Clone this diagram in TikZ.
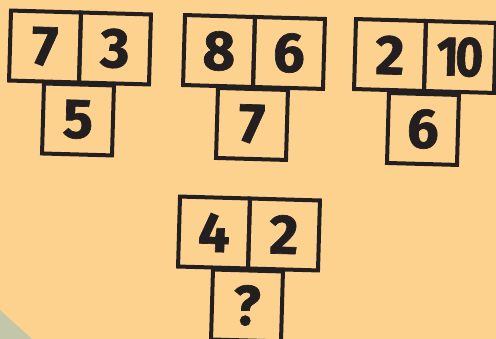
\documentclass[tikz,border=0pt]{standalone}
\usepackage{fontspec}
\setsansfont{Fira Sans}[BoldFeatures={FakeBold=1.2}]
\usepackage{tikz}
\usetikzlibrary{positioning}

\definecolor{paper}{HTML}{FDD28E}
\definecolor{ink}{HTML}{231F20}
\definecolor{corner}{HTML}{C4C6A9}

\tikzset{
    cell/.style={draw=ink, line width=4pt, minimum width=70pt, minimum height=70pt,
        inner sep=0pt, text=ink, font=\sffamily\bfseries\fontsize{56}{56}\selectfont},
    tile/.style={transform shape, rotate=-1.6}
}

\begin{document}
\begin{tikzpicture}[x=1pt, y=-1pt]

% Background
\useasboundingbox (0,0) rectangle (496,339);
\fill[paper] (0,0) rectangle (496,339);
\fill[corner] (0,310) -- (32,339) -- (0,339) -- cycle;

% First puzzle
\begin{scope}[shift={(80,47.5)}, tile]
\node[cell] (aL) at (-35,0) {7};
\node[cell] (aR) at (35,0) {3};
\node[cell] (aB) at (0,72) {5};
\end{scope}

% Second puzzle
\begin{scope}[shift={(254,52)}, tile]
\node[cell] (bL) at (-35,0) {8};
\node[cell] (bR) at (35,0) {6};
\node[cell] (bB) at (0,72) {7};
\end{scope}

% Third puzzle
\begin{scope}[shift={(425,56)}, tile]
\node[cell] (cL) at (-35,0) {2};
\node[cell] (cR) at (35,0) {\scalebox{0.85}[1]{1\kern-4pt 0}};
\node[cell] (cB) at (0,73) {6};
\end{scope}

% Question
\begin{scope}[shift={(249,233.5)}, tile]
\node[cell] (dL) at (-35,0) {4};
\node[cell] (dR) at (35,0) {2};
\node[cell] (dB) at (0,72) {?};
\end{scope}

\end{tikzpicture}
\end{document}
